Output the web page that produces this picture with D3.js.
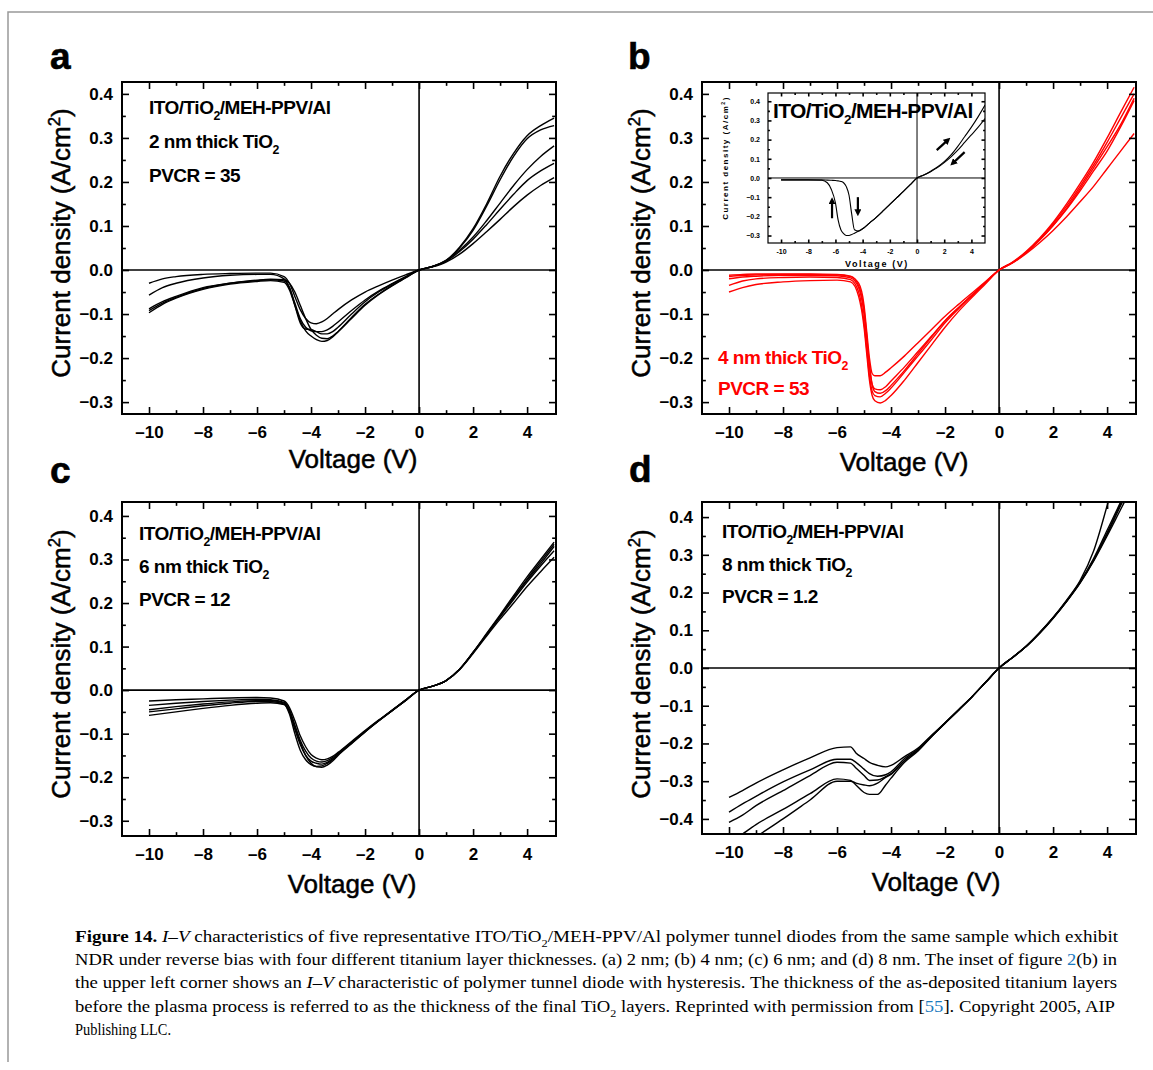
<!DOCTYPE html>
<html lang="en">
<head>
<meta charset="utf-8">
<script src="https://d3js.org/d3.v7.min.js"></script>
<style>
  body { margin: 0; background: #fff; }
  svg text { font-family: "Liberation Sans", Arial, sans-serif; }
</style>
</head>
<body>
<script>
// ---- data ----
const xTicks = [-10, -8, -6, -4, -2, 0, 2, 4];
const xMinor = [-9, -7, -5, -3, -1, 1, 3];
const yTicks = [-0.3, -0.2, -0.1, 0, 0.1, 0.2, 0.3, 0.4];
const yMinor = [-0.25, -0.15, -0.05, 0.05, 0.15, 0.25, 0.35];
const yTicksD = [-0.4, -0.3, -0.2, -0.1, 0, 0.1, 0.2, 0.3, 0.4];
const yMinorD = [-0.35, -0.25, -0.15, -0.05, 0.05, 0.15, 0.25, 0.35];

// panel a : 2 nm
const voltsA = [-10,-9.5,-9,-8,-7,-6,-5.5,-5,-4.8,-4.6,-4.4,-4.2,-4,-3.8,-3.6,-3.4,-3.2,-3,-2.5,-2,-1.5,-1,-0.5,0,0.5,1,1.5,2,2.5,3,3.5,4,4.5,5];
const a1 = [-0.030,-0.020,-0.015,-0.010,-0.008,-0.007,-0.007,-0.015,-0.030,-0.060,-0.090,-0.110,-0.120,-0.122,-0.118,-0.110,-0.100,-0.090,-0.068,-0.050,-0.036,-0.023,-0.011,0,0.008,0.020,0.050,0.090,0.145,0.205,0.258,0.298,0.318,0.328];
const a2 = [-0.057,-0.040,-0.030,-0.018,-0.012,-0.010,-0.010,-0.020,-0.040,-0.075,-0.110,-0.130,-0.138,-0.140,-0.140,-0.136,-0.128,-0.118,-0.092,-0.068,-0.048,-0.031,-0.015,0,0.008,0.022,0.052,0.094,0.150,0.213,0.265,0.305,0.328,0.345];
const a3 = [-0.092,-0.075,-0.062,-0.042,-0.030,-0.024,-0.022,-0.025,-0.040,-0.080,-0.120,-0.134,-0.135,-0.140,-0.145,-0.145,-0.140,-0.130,-0.100,-0.072,-0.050,-0.032,-0.016,0,0.008,0.022,0.045,0.075,0.112,0.152,0.192,0.228,0.258,0.282];
const a4 = [-0.097,-0.078,-0.064,-0.044,-0.032,-0.026,-0.024,-0.028,-0.045,-0.080,-0.115,-0.138,-0.150,-0.158,-0.162,-0.160,-0.152,-0.140,-0.108,-0.078,-0.055,-0.035,-0.017,0,0.007,0.018,0.036,0.060,0.087,0.115,0.144,0.170,0.192,0.210];
const a5 = [-0.088,-0.072,-0.060,-0.040,-0.030,-0.023,-0.021,-0.022,-0.030,-0.050,-0.080,-0.110,-0.135,-0.148,-0.155,-0.156,-0.150,-0.140,-0.110,-0.080,-0.056,-0.036,-0.018,0,0.008,0.020,0.042,0.070,0.103,0.138,0.172,0.203,0.225,0.242];

// panel b : 4 nm (red)
const voltsB = [-10,-9.5,-9,-8,-7,-6,-5.5,-5.2,-5,-4.9,-4.8,-4.7,-4.6,-4.4,-4.2,-4,-3.5,-3,-2.5,-2,-1.5,-1,-0.5,0,0.5,1,1.5,2,2.5,3,3.5,4,4.5,5];
const b1 = [-0.015,-0.012,-0.011,-0.010,-0.010,-0.011,-0.015,-0.030,-0.080,-0.140,-0.200,-0.235,-0.240,-0.240,-0.232,-0.222,-0.195,-0.165,-0.135,-0.105,-0.078,-0.052,-0.026,0,0.016,0.037,0.062,0.090,0.121,0.155,0.190,0.230,0.270,0.310];
const b2 = [-0.020,-0.016,-0.014,-0.012,-0.012,-0.013,-0.018,-0.040,-0.100,-0.160,-0.220,-0.260,-0.270,-0.272,-0.265,-0.252,-0.220,-0.185,-0.150,-0.115,-0.085,-0.057,-0.028,0,0.017,0.040,0.068,0.101,0.138,0.180,0.225,0.270,0.325,0.385];
const b3 = [-0.035,-0.025,-0.020,-0.017,-0.016,-0.017,-0.022,-0.050,-0.120,-0.180,-0.240,-0.275,-0.285,-0.288,-0.280,-0.268,-0.232,-0.195,-0.158,-0.120,-0.088,-0.058,-0.029,0,0.017,0.040,0.070,0.105,0.145,0.190,0.238,0.290,0.345,0.400];
const b4 = [-0.050,-0.040,-0.033,-0.027,-0.024,-0.023,-0.027,-0.060,-0.130,-0.190,-0.250,-0.285,-0.297,-0.302,-0.296,-0.285,-0.250,-0.210,-0.170,-0.130,-0.094,-0.062,-0.031,0,0.018,0.042,0.072,0.108,0.150,0.196,0.245,0.300,0.358,0.415];
const b5 = [-0.012,-0.010,-0.009,-0.009,-0.009,-0.010,-0.014,-0.035,-0.090,-0.150,-0.215,-0.260,-0.276,-0.280,-0.274,-0.262,-0.228,-0.190,-0.152,-0.116,-0.086,-0.057,-0.028,0,0.017,0.039,0.068,0.101,0.140,0.185,0.232,0.280,0.330,0.390];

// inset of panel b (hysteresis loop)
const insetVolts = [-10,-9,-8,-7,-6.6,-6.3,-6,-5.8,-5.6,-5.4,-5.2,-5,-4.8,-4.6,-4.3,-4,-3.5,-3,-2.5,-2,-1.5,-1,-0.5,0,0.5,1,1.5,2,2.5,3,3.5,4,4.5,5];
const insetOuter = [-0.010,-0.010,-0.010,-0.012,-0.025,-0.060,-0.130,-0.220,-0.270,-0.290,-0.300,-0.300,-0.295,-0.288,-0.277,-0.265,-0.235,-0.205,-0.172,-0.138,-0.104,-0.070,-0.035,0,0.015,0.035,0.057,0.085,0.120,0.165,0.215,0.265,0.320,0.380];
const insetInner = [-0.010,-0.010,-0.010,-0.010,-0.011,-0.012,-0.013,-0.015,-0.018,-0.025,-0.045,-0.090,-0.190,-0.270,-0.277,-0.265,-0.235,-0.205,-0.172,-0.138,-0.104,-0.070,-0.035,0,0.015,0.033,0.054,0.080,0.110,0.145,0.185,0.225,0.265,0.310];
const insetArrows = [[-6.25,-0.21,-6.25,-0.115],[-4.35,-0.10,-4.35,-0.185],[1.45,0.145,2.3,0.20],[3.5,0.135,2.6,0.075]];

// panel c : 6 nm
const voltsC = [-10,-9,-8,-7,-6,-5.5,-5,-4.8,-4.6,-4.4,-4.2,-4,-3.8,-3.6,-3.4,-3.2,-3,-2.5,-2,-1.5,-1,-0.5,0,0.5,1,1.5,2,2.5,3,3.5,4,4.5,5];
const c1 = [-0.025,-0.022,-0.020,-0.018,-0.017,-0.018,-0.025,-0.040,-0.070,-0.105,-0.130,-0.148,-0.156,-0.160,-0.158,-0.152,-0.143,-0.118,-0.093,-0.069,-0.046,-0.023,0,0.009,0.022,0.048,0.086,0.128,0.170,0.213,0.255,0.295,0.335];
const c2 = [-0.035,-0.030,-0.026,-0.023,-0.021,-0.022,-0.028,-0.045,-0.080,-0.115,-0.140,-0.156,-0.163,-0.165,-0.162,-0.155,-0.145,-0.120,-0.094,-0.070,-0.047,-0.023,0,0.009,0.022,0.048,0.087,0.130,0.173,0.217,0.260,0.300,0.340];
const c3 = [-0.045,-0.038,-0.032,-0.027,-0.024,-0.024,-0.030,-0.050,-0.090,-0.125,-0.150,-0.163,-0.168,-0.170,-0.166,-0.158,-0.147,-0.121,-0.095,-0.070,-0.047,-0.023,0,0.009,0.022,0.048,0.086,0.127,0.168,0.208,0.248,0.285,0.320];
const c4 = [-0.050,-0.043,-0.036,-0.030,-0.026,-0.026,-0.032,-0.055,-0.100,-0.138,-0.160,-0.171,-0.175,-0.174,-0.168,-0.160,-0.148,-0.122,-0.096,-0.071,-0.047,-0.024,0,0.009,0.022,0.047,0.084,0.124,0.163,0.200,0.238,0.272,0.305];
const c5 = [-0.058,-0.050,-0.042,-0.035,-0.030,-0.029,-0.033,-0.050,-0.085,-0.120,-0.150,-0.168,-0.176,-0.177,-0.172,-0.163,-0.150,-0.123,-0.096,-0.071,-0.047,-0.024,0,0.009,0.022,0.048,0.087,0.128,0.170,0.212,0.252,0.290,0.330];

// panel d : 8 nm
const voltsD = [-10,-9.5,-9,-8,-7,-6,-5.5,-5.3,-5,-4.8,-4.5,-4.2,-4,-3.5,-3,-2.5,-2,-1.5,-1,-0.5,0,0.5,1,1.5,2,2.5,3,3.5,4,4.5,5];
const dd1 = [-0.343,-0.325,-0.305,-0.270,-0.238,-0.211,-0.209,-0.225,-0.240,-0.250,-0.258,-0.262,-0.258,-0.235,-0.212,-0.178,-0.145,-0.111,-0.076,-0.038,0,0.028,0.058,0.094,0.134,0.180,0.232,0.310,0.430,0.560,0.680];
const dd2 = [-0.382,-0.360,-0.340,-0.302,-0.270,-0.242,-0.242,-0.250,-0.268,-0.280,-0.287,-0.283,-0.275,-0.240,-0.215,-0.180,-0.146,-0.111,-0.076,-0.038,0,0.028,0.057,0.093,0.133,0.178,0.228,0.290,0.365,0.440,0.520];
const dd3 = [-0.409,-0.390,-0.365,-0.325,-0.285,-0.250,-0.252,-0.265,-0.285,-0.298,-0.297,-0.288,-0.280,-0.245,-0.217,-0.181,-0.146,-0.111,-0.076,-0.038,0,0.028,0.057,0.093,0.133,0.177,0.226,0.285,0.355,0.430,0.500];
const dd4 = [-0.465,-0.440,-0.415,-0.375,-0.333,-0.294,-0.298,-0.310,-0.330,-0.335,-0.335,-0.310,-0.292,-0.250,-0.220,-0.182,-0.147,-0.112,-0.076,-0.038,0,0.028,0.057,0.092,0.132,0.176,0.225,0.283,0.350,0.420,0.490];
const dd5 = [-0.500,-0.475,-0.448,-0.400,-0.350,-0.300,-0.300,-0.305,-0.310,-0.312,-0.305,-0.290,-0.282,-0.245,-0.218,-0.181,-0.146,-0.111,-0.076,-0.038,0,0.028,0.057,0.092,0.132,0.177,0.227,0.287,0.358,0.435,0.510];

// ---- svg ----
const W = 1153, H = 1070;
const svg = d3.select("body").append("svg").attr("width", W).attr("height", H);
svg.append("rect").attr("width", W).attr("height", H).attr("fill", "#fff");
// page border (top + left)
svg.append("path").attr("d", "M8,1062V12H1153").attr("fill", "none").attr("stroke", "#999").attr("stroke-width", 1.5);

const defs = svg.append("defs");
defs.append("marker").attr("id", "head").attr("viewBox", "0 0 10 10")
  .attr("refX", 6).attr("refY", 5).attr("markerWidth", 3.2).attr("markerHeight", 3.2)
  .attr("orient", "auto").append("path").attr("d", "M0,0L10,5L0,10z").attr("fill", "#000");

const fmtX = d => d < 0 ? "\u2013" + (-d) : String(d);
const fmtY = d3.format(".1f");

// text with sub/superscript parts
function addText(parent, x, y, parts, o) {
  const t = parent.append("text").attr("x", x).attr("y", y)
    .attr("font-size", o.size).attr("font-weight", o.weight || "normal")
    .attr("fill", o.color || "#000");
  if (o.family) t.style("font-family", o.family);
  if (o.spacing) t.attr("letter-spacing", o.spacing);
  if (o.anchor) t.attr("text-anchor", o.anchor);
  if (o.stroke) t.attr("stroke", o.color || "#000").attr("stroke-width", o.stroke);
  if (o.rotate) t.attr("transform", `rotate(-90,${x},${y})`);
  if (o.len) t.attr("textLength", o.len).attr("lengthAdjust", "spacingAndGlyphs");
  let shift = 0;
  parts.forEach(p => {
    const s = t.append("tspan").text(p.t);
    let target = 0;
    if (p.sub) { target = o.size * 0.3; s.attr("font-size", o.size * 0.65); }
    if (p.sup) { target = -o.size * 0.38; s.attr("font-size", o.size * 0.65); }
    if (target !== shift) { s.attr("dy", target - shift); shift = target; }
    if (p.italic) s.attr("font-style", "italic");
    if (p.bold) s.attr("font-weight", "bold");
    if (p.color) s.attr("fill", p.color);
  });
  return t;
}

function styleAxis(sel, fs) {
  sel.select(".domain").remove();
  sel.attr("font-family", null).attr("font-size", null);
  sel.selectAll("line").attr("stroke", "#000").attr("stroke-width", 1.6);
  sel.selectAll("text").attr("font-size", fs).attr("font-weight", "bold").attr("fill", "#000");
}

function drawPanel(p) {
  const g = svg.append("g").attr("transform", `translate(${p.left},${p.top})`);
  const x = d3.scaleLinear().domain(p.xDomain).range([0, p.w]);
  const y = d3.scaleLinear().domain(p.yDomain).range([p.h, 0]);
  const clipId = "clip-" + p.name;
  g.append("clipPath").attr("id", clipId).append("rect").attr("width", p.w).attr("height", p.h);
  const big = p.tick, small = p.tick * 0.55;

  // zero lines
  g.append("line").attr("x1", 0).attr("x2", p.w).attr("y1", y(0)).attr("y2", y(0))
    .attr("stroke", "#000").attr("stroke-width", p.zeroW);
  g.append("line").attr("x1", x(0)).attr("x2", x(0)).attr("y1", 0).attr("y2", p.h)
    .attr("stroke", "#000").attr("stroke-width", p.zeroW);

  // curves
  const line = d3.line().x(d => x(d[0])).y(d => y(d[1])).curve(d3.curveMonotoneX);
  g.append("g").attr("clip-path", `url(#${clipId})`)
    .selectAll("path").data(p.series).join("path")
    .attr("d", s => line(p.volts.map((v, i) => [v, s[i]])))
    .attr("fill", "none").attr("stroke", p.color).attr("stroke-width", p.lineW)
    .attr("stroke-linejoin", "round");

  // axes: ticks inward on all four sides
  g.append("g").attr("transform", `translate(0,${p.h})`)
    .call(d3.axisBottom(x).tickValues(p.xTicks).tickSize(-big).tickPadding(p.xPad).tickFormat(p.fmtX || fmtX))
    .call(s => styleAxis(s, p.fs));
  g.append("g").attr("transform", `translate(0,${p.h})`)
    .call(d3.axisBottom(x).tickValues(p.xMinor).tickSize(-small).tickFormat(""))
    .call(s => styleAxis(s, p.fs));
  g.append("g")
    .call(d3.axisLeft(y).tickValues(p.yTicks).tickSize(-big).tickPadding(p.yPad).tickFormat(fmtY))
    .call(s => styleAxis(s, p.fs));
  g.append("g")
    .call(d3.axisLeft(y).tickValues(p.yMinor).tickSize(-small).tickFormat(""))
    .call(s => styleAxis(s, p.fs));
  [[p.xTicks, big], [p.xMinor, small]].forEach(([tv, sz]) =>
    g.append("g").call(d3.axisTop(x).tickValues(tv).tickSize(-sz).tickFormat("")).call(s => styleAxis(s, p.fs)));
  [[p.yTicks, big], [p.yMinor, small]].forEach(([tv, sz]) =>
    g.append("g").attr("transform", `translate(${p.w},0)`)
      .call(d3.axisRight(y).tickValues(tv).tickSize(-sz).tickFormat("")).call(s => styleAxis(s, p.fs)));

  g.append("rect").attr("width", p.w).attr("height", p.h)
    .attr("fill", "none").attr("stroke", "#000").attr("stroke-width", p.frameW);
  return { g, x, y };
}

const mainOpts = { w: 434, xDomain: [-11, 5.07], xTicks: xTicks, xMinor: xMinor,
  tick: 7, xPad: 12, yPad: 9, fs: 17, lineW: 1.4, zeroW: 1.6, frameW: 2 };

drawPanel(Object.assign({}, mainOpts, { name: "a", left: 122, top: 82, h: 332,
  yDomain: [-0.327, 0.427], yTicks: yTicks, yMinor: yMinor,
  volts: voltsA, series: [a1, a2, a3, a4, a5], color: "#000" }));
drawPanel(Object.assign({}, mainOpts, { name: "b", left: 702, top: 82, h: 332,
  yDomain: [-0.327, 0.427], yTicks: yTicks, yMinor: yMinor,
  volts: voltsB, series: [b1, b2, b3, b4, b5], color: "#ff0000" }));
drawPanel(Object.assign({}, mainOpts, { name: "c", left: 122, top: 502, h: 334,
  yDomain: [-0.335, 0.432], yTicks: yTicks, yMinor: yMinor,
  volts: voltsC, series: [c1, c2, c3, c4, c5], color: "#000" }));
drawPanel(Object.assign({}, mainOpts, { name: "d", left: 702, top: 502, h: 332,
  yDomain: [-0.44, 0.44], yTicks: yTicksD, yMinor: yMinorD,
  volts: voltsD, series: [dd1, dd2, dd3, dd4, dd5], color: "#000" }));

// inset in panel b
svg.append("rect").attr("x", 768).attr("y", 93).attr("width", 217).attr("height", 150).attr("fill", "#fff");
const ins = drawPanel({ name: "inset", left: 768, top: 93, w: 217, h: 150,
  xDomain: [-10.96, 5.0], yDomain: [-0.339, 0.443],
  xTicks: xTicks, xMinor: xMinor, yTicks: yTicks, yMinor: yMinor,
  tick: 3.5, xPad: 6, yPad: 8, fs: 7, lineW: 1.1, zeroW: 1, frameW: 1.2,
  volts: insetVolts, series: [insetOuter, insetInner], color: "#000",
  fmtX: d => String(d) });
ins.g.selectAll("line.arrow").data(insetArrows).join("line").attr("class", "arrow")
  .attr("x1", d => ins.x(d[0])).attr("y1", d => ins.y(d[1]))
  .attr("x2", d => ins.x(d[2])).attr("y2", d => ins.y(d[3]))
  .attr("stroke", "#000").attr("stroke-width", 2.2).attr("marker-end", "url(#head)");
addText(svg, 877, 267, [{ t: "Voltage (V)" }], { size: 9, weight: "bold", anchor: "middle", spacing: 1.6 });
addText(svg, 728, 158, [{ t: "Current density (A/cm" }, { t: "2", sup: true }, { t: ")" }],
  { size: 8, weight: "bold", anchor: "middle", spacing: 1.5, rotate: true });
addText(svg, 773, 118, [{ t: "ITO/TiO" }, { t: "2", sub: true }, { t: "/MEH-PPV/Al" }],
  { size: 21, weight: "bold", spacing: -0.6 });

// panel letters
[["a", 50, 69], ["b", 628, 69], ["c", 50, 483], ["d", 629, 482]].forEach(([t, x, y]) =>
  addText(svg, x, y, [{ t: t }], { size: 37, weight: "bold", stroke: 0.6 }));

// axis titles
const yTitle = [{ t: "Current density (A/cm" }, { t: "2", sup: true }, { t: ")" }];
[[70, 243], [650, 243], [70, 664], [650, 664]].forEach(([x, y]) =>
  addText(svg, x, y, yTitle, { size: 26, anchor: "middle", rotate: true, stroke: 0.5 }));
[[353, 468], [904, 471], [352, 893], [936, 891]].forEach(([x, y]) =>
  addText(svg, x, y, [{ t: "Voltage (V)" }], { size: 26, anchor: "middle", stroke: 0.5 }));

// annotations inside panels
const lab = { size: 19, weight: "bold", spacing: -0.5 };
const stack = "ITO/TiO";
addText(svg, 149, 114, [{ t: stack }, { t: "2", sub: true }, { t: "/MEH-PPV/Al" }], lab);
addText(svg, 149, 148, [{ t: "2 nm thick TiO" }, { t: "2", sub: true }], lab);
addText(svg, 149, 182, [{ t: "PVCR = 35" }], lab);
addText(svg, 718, 364, [{ t: "4 nm thick TiO" }, { t: "2", sub: true }], Object.assign({}, lab, { color: "#ff0000" }));
addText(svg, 718, 395, [{ t: "PVCR = 53" }], Object.assign({}, lab, { color: "#ff0000" }));
addText(svg, 139, 540, [{ t: stack }, { t: "2", sub: true }, { t: "/MEH-PPV/Al" }], lab);
addText(svg, 139, 573, [{ t: "6 nm thick TiO" }, { t: "2", sub: true }], lab);
addText(svg, 139, 606, [{ t: "PVCR = 12" }], lab);
addText(svg, 722, 538, [{ t: stack }, { t: "2", sub: true }, { t: "/MEH-PPV/Al" }], lab);
addText(svg, 722, 571, [{ t: "8 nm thick TiO" }, { t: "2", sub: true }], lab);
addText(svg, 722, 603, [{ t: "PVCR = 1.2" }], lab);

// caption
const cap = { size: 17.5, family: "'Liberation Serif', 'Times New Roman', serif" };
const blue = "#1a7ac0";
addText(svg, 75, 942, [{ t: "Figure 14.", bold: true }, { t: " " }, { t: "I\u2013V", italic: true },
  { t: " characteristics of five representative ITO/TiO" }, { t: "2", sub: true },
  { t: "/MEH-PPV/Al polymer tunnel diodes from the same sample which exhibit" }], Object.assign({ len: 1043 }, cap));
addText(svg, 75, 965, [{ t: "NDR under reverse bias with four different titanium layer thicknesses. (a) 2 nm; (b) 4 nm; (c) 6 nm; and (d) 8 nm. The inset of figure " },
  { t: "2", color: blue }, { t: "(b) in" }], Object.assign({ len: 1042 }, cap));
addText(svg, 75, 988, [{ t: "the upper left corner shows an " }, { t: "I\u2013V", italic: true },
  { t: " characteristic of polymer tunnel diode with hysteresis. The thickness of the as-deposited titanium layers" }], Object.assign({ len: 1042 }, cap));
addText(svg, 75, 1012, [{ t: "before the plasma process is referred to as the thickness of the final TiO" }, { t: "2", sub: true },
  { t: " layers. Reprinted with permission from [" }, { t: "55", color: blue }, { t: "]. Copyright 2005, AIP" }], Object.assign({ len: 1040 }, cap));
addText(svg, 75, 1035, [{ t: "Publishing LLC." }], Object.assign({ len: 96 }, cap));
</script>
</body>
</html>
